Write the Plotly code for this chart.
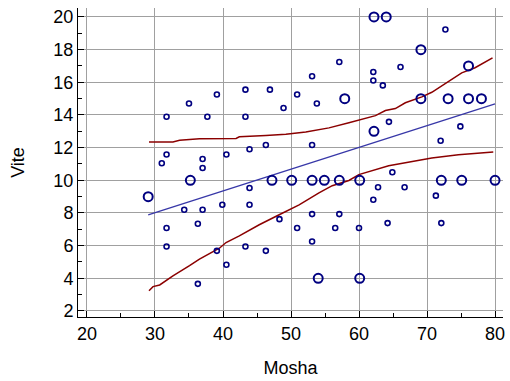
import plotly.graph_objects as go

# Scatter data (Mosha = x, Vite = y, freq = bubble weight)
mosha = [29.0, 35.2, 47.2, 50.1, 53.1, 54.9, 57.1, 60.1, 72.1, 75.1, 80.0,
         54.0, 60.1, 57.9, 69.1, 73.1, 76.1, 78.0, 62.2, 64.0, 69.1, 76.1, 62.2,
         31.7, 35.0, 37.7, 39.1, 43.3, 46.9, 48.9, 50.9, 43.3, 53.1, 53.8, 57.1,
         43.9, 46.3, 53.1, 72.7, 62.1, 62.1, 66.1, 63.5, 64.4, 74.9, 72.0,
         31.7, 31.0, 37.0, 37.0, 34.3, 37.0, 31.7, 36.3, 31.7, 36.3, 39.1,
         40.5, 43.9, 39.9, 43.9, 48.3, 50.9, 53.1, 56.5, 57.1, 53.1, 43.3,
         46.3, 40.5, 64.9, 62.8, 66.7, 62.1, 71.3, 60.0, 64.2, 72.1]
vite = [9, 10, 10, 10, 10, 10, 10, 10, 10, 10, 10,
        4, 4, 15, 15, 15, 15, 15, 20, 20, 18, 17, 13,
        13.89, 14.70, 13.89, 15.25, 15.55, 15.55, 14.43, 15.25, 13.89, 16.37, 14.70, 17.24,
        11.90, 12.16, 12.16, 19.23, 16.63, 16.11, 16.94, 15.81, 13.58, 13.30, 12.42,
        11.58, 11.04, 11.30, 10.75, 8.20, 8.20, 7.08, 7.34, 5.95, 3.66, 5.68,
        11.58, 9.53, 8.50, 8.50, 7.62, 7.08, 7.93, 7.08, 7.93, 6.25, 5.95,
        5.68, 4.83, 10.49, 9.57, 9.57, 8.81, 9.06, 7.08, 7.38, 7.38]
freq = [2] * 23 + [1] * 55

# Regression line
reg_x = [29.0, 80.0]
reg_y = [7.89, 14.68]

# Upper confidence band
up_x = [29.12, 32.64, 33.62, 36.54, 41.92, 42.40, 46.31, 49.24, 52.17, 55.58, 58.51,
        62.42, 63.88, 65.34, 66.81, 69.24, 70.70, 73.15, 75.10, 77.06, 79.63]
up_y = [12.35, 12.35, 12.45, 12.54, 12.56, 12.66, 12.74, 12.82, 12.96, 13.21, 13.52,
        13.96, 14.27, 14.39, 14.75, 15.11, 15.39, 16.07, 16.58, 16.89, 17.50]

# Lower confidence band
lo_x = [29.12, 29.71, 30.69, 32.64, 35.08, 36.54, 39.47, 40.45, 42.40, 45.33, 48.26,
        51.19, 54.11, 56.06, 58.51, 59.97, 64.36, 70.70, 74.61, 79.74]
lo_y = [3.24, 3.49, 3.59, 4.15, 4.77, 5.17, 5.84, 6.19, 6.60, 7.28, 7.89,
        8.50, 9.23, 9.67, 9.99, 10.35, 10.89, 11.37, 11.57, 11.74]

x_ticks = [20, 30, 40, 50, 60, 70, 80]
y_ticks = [2, 4, 6, 8, 10, 12, 14, 16, 18, 20]

sizes = [9 if f == 2 else 5 for f in freq]
lws = [2 if f == 2 else 1.6 for f in freq]

fig = go.Figure()
fig.add_trace(go.Scatter(x=up_x, y=up_y, mode="lines",
                         line=dict(color="#8B0000", width=1.5), hoverinfo="skip"))
fig.add_trace(go.Scatter(x=lo_x, y=lo_y, mode="lines",
                         line=dict(color="#8B0000", width=1.5), hoverinfo="skip"))
fig.add_trace(go.Scatter(x=reg_x, y=reg_y, mode="lines",
                         line=dict(color="#3838A8", width=1.3), hoverinfo="skip"))
fig.add_trace(go.Scatter(x=mosha, y=vite, mode="markers",
                         marker=dict(symbol="circle-open", size=sizes, color="#000080",
                                     opacity=1,
                                     line=dict(width=lws, color="#000080"))))

font = dict(family="Liberation Sans, Arial, sans-serif", size=18, color="#000")
fig.update_layout(
    width=510, height=381,
    margin=dict(l=78, r=5, t=8, b=64),
    paper_bgcolor="white", plot_bgcolor="white",
    showlegend=False,
    font=font,
    xaxis=dict(range=[18.68, 81.17], tickvals=x_ticks, ticks="inside", ticklen=6,
               tickcolor="#000", showline=True, linecolor="#000", linewidth=1,
               showgrid=True, gridcolor="#A0A0A0", gridwidth=1, zeroline=False,
               minor=dict(tickvals=[25, 35, 45, 55, 65, 75], ticks="inside", ticklen=4,
                          tickcolor="#000", showgrid=False),
               title=dict(text="Mosha", font=font, standoff=18),
               tickfont=font),
    yaxis=dict(range=[1.63, 20.55], tickvals=y_ticks, ticks="inside", ticklen=6,
               tickcolor="#000", showline=True, linecolor="#000", linewidth=1,
               showgrid=True, gridcolor="#A0A0A0", gridwidth=1, zeroline=False,
               minor=dict(tickvals=[3, 5, 7, 9, 11, 13, 15, 17, 19], ticks="inside",
                          ticklen=4, tickcolor="#000", showgrid=False),
               title=dict(text="Vite", font=font, standoff=24),
               tickfont=font),
)
fig.write_html("out.html")
